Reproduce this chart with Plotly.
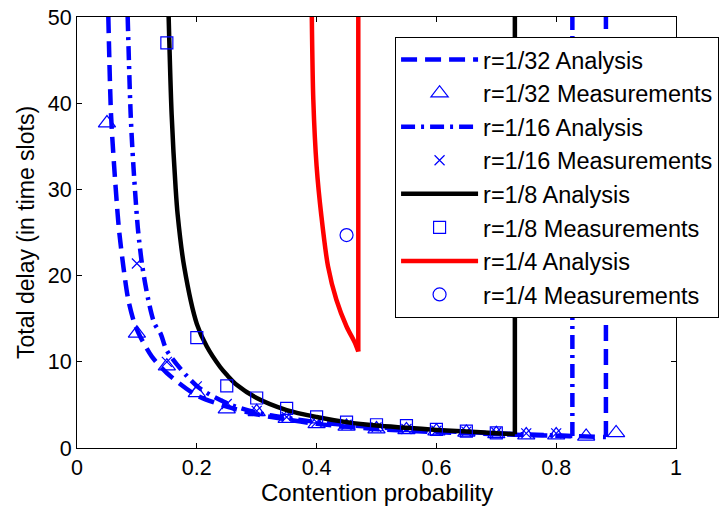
import plotly.graph_objects as go

# ---- analysis curves; last point of each = top of the vertical segment ----
p32 = [0.0523, 0.0568, 0.0618, 0.0679, 0.0706, 0.0773, 0.0856, 0.0957, 0.105, 0.125, 0.15, 0.2, 0.25, 0.3, 0.35, 0.4, 0.5, 0.6, 0.7, 0.8, 0.883, 0.883]
d32 = [50, 38.7, 32.9, 27.1, 25.0, 21.1, 17.2, 14.5, 13.0, 10.6, 8.7, 6.1, 4.8, 3.9, 3.3, 2.8, 2.2, 1.85, 1.6, 1.42, 1.27, 60]

p16 = [0.0846, 0.0896, 0.094, 0.0997, 0.1023, 0.109, 0.119, 0.129, 0.14, 0.15, 0.2, 0.25, 0.3, 0.35, 0.4, 0.5, 0.6, 0.7, 0.8, 0.827, 0.827]
d16 = [50, 38.7, 32.9, 27.1, 25.0, 21.1, 17.2, 14.5, 13.2, 11.3, 7.2, 5.2, 4.1, 3.5, 3.0, 2.4, 2.0, 1.7, 1.45, 1.38, 60]

p8 = [0.153, 0.158, 0.1648, 0.168, 0.179, 0.2, 0.2165, 0.239, 0.25, 0.267, 0.3, 0.35, 0.4, 0.45, 0.5, 0.55, 0.6, 0.65, 0.7, 0.731, 0.731]
d8 = [50, 38.7, 30.0, 27.1, 21.0, 14.4, 11.8, 9.4, 8.5, 7.3, 5.8, 4.4, 3.6, 3.0, 2.6, 2.35, 2.1, 1.9, 1.72, 1.6, 60]

p4 = [0.392, 0.3945, 0.400, 0.408, 0.419, 0.433, 0.450, 0.464, 0.4696, 0.4696]
d4 = [50, 40.4, 32.7, 26.9, 21.1, 17.2, 14.1, 12.2, 11.2, 60]

# ---- measurements ----
m32_p = [0.05, 0.1, 0.15, 0.2, 0.25, 0.3, 0.35, 0.4, 0.45, 0.5, 0.55, 0.6, 0.65, 0.7, 0.75, 0.8, 0.85, 0.9]
m32_d = [37.7, 13.3, 9.5, 6.4, 4.5, 4.2, 3.4, 2.8, 2.5, 2.2, 2.1, 1.95, 1.8, 1.65, 1.5, 1.5, 1.35, 1.75]

m16_p = [0.1, 0.15, 0.2, 0.25, 0.3, 0.35, 0.4, 0.45, 0.5, 0.55, 0.6, 0.65, 0.7, 0.75, 0.8]
m16_d = [21.4, 10.0, 7.15, 5.1, 4.3, 3.6, 3.0, 2.7, 2.4, 2.2, 2.0, 1.9, 1.8, 1.7, 1.7]

m8_p = [0.15, 0.2, 0.25, 0.3, 0.35, 0.4, 0.45, 0.5, 0.55, 0.6, 0.65, 0.7]
m8_d = [47.0, 12.8, 7.2, 5.8, 4.6, 3.6, 3.0, 2.7, 2.6, 2.15, 1.95, 1.75]

m4_p = [0.45]
m4_d = [24.7]

xticks = [0, 0.2, 0.4, 0.6, 0.8, 1]
xtick_text = ["0", "0.2", "0.4", "0.6", "0.8", "1"]
yticks = [0, 10, 20, 30, 40, 50]

BLUE = "#0000FF"
RED = "#FF0000"
FONT = "Liberation Sans, Arial, sans-serif"

fig = go.Figure()


def analysis(p, d, name, group, line):
    # smooth curve part
    fig.add_trace(go.Scatter(x=p[:-1], y=d[:-1], mode="lines", name=name, legendgroup=group,
                             line=dict(shape="spline", smoothing=0.8, **line)))
    # vertical segment at the end of the domain
    fig.add_trace(go.Scatter(x=p[-2:], y=d[-2:], mode="lines", name=name, legendgroup=group,
                             showlegend=False, hoverinfo="skip", line=line))


def meas(p, d, name, group, symbol, size):
    fig.add_trace(go.Scatter(x=p, y=d, mode="markers", name=name, legendgroup=group,
                             marker=dict(symbol=symbol, size=size, color=BLUE,
                                         line=dict(width=1.2, color=BLUE))))


analysis(p32, d32, "r=1/32 Analysis", "a", dict(color=BLUE, width=4.5, dash="16px,8px"))
meas(m32_p, m32_d, "r=1/32 Measurements", "b", "triangle-up-open", 15)
analysis(p16, d16, "r=1/16 Analysis", "c", dict(color=BLUE, width=4.5, dash="14px,6px,3px,6px"))
meas(m16_p, m16_d, "r=1/16 Measurements", "d", "x-thin-open", 10)
analysis(p8, d8, "r=1/8 Analysis", "e", dict(color="black", width=4.5))
meas(m8_p, m8_d, "r=1/8 Measurements", "f", "square-open", 12)
analysis(p4, d4, "r=1/4 Analysis", "g", dict(color=RED, width=4.5))
meas(m4_p, m4_d, "r=1/4 Measurements", "h", "circle-open", 13)

axis_common = dict(showline=True, linecolor="black", linewidth=1, mirror="ticks", ticks="inside",
                   ticklen=5, tickcolor="black", showgrid=False, zeroline=False,
                   tickfont=dict(family=FONT, size=21.5, color="black"))

fig.update_layout(
    width=723, height=512,
    margin=dict(l=77, r=47, t=17, b=64, autoexpand=False),
    paper_bgcolor="white", plot_bgcolor="white",
    font=dict(family=FONT, size=21, color="black"),
    xaxis=dict(range=[0, 1], tickvals=xticks, ticktext=xtick_text, **axis_common),
    yaxis=dict(range=[0, 50], tickvals=yticks,
               title=dict(text="Total delay (in time slots)", font=dict(family=FONT, size=23), standoff=6),
               **axis_common),
    legend=dict(x=0.531, y=0.954, xanchor="left", yanchor="top",
                bgcolor="white", bordercolor="black", borderwidth=1,
                font=dict(family=FONT, size=23.5, color="black"),
                tracegroupgap=0, itemwidth=77),
    annotations=[dict(text="Contention probability", xref="paper", yref="paper",
                      x=0.5, y=-0.104, xanchor="center", yanchor="middle", showarrow=False,
                      font=dict(family=FONT, size=24, color="black"))],
    showlegend=True,
)

fig.write_html("out.html")
